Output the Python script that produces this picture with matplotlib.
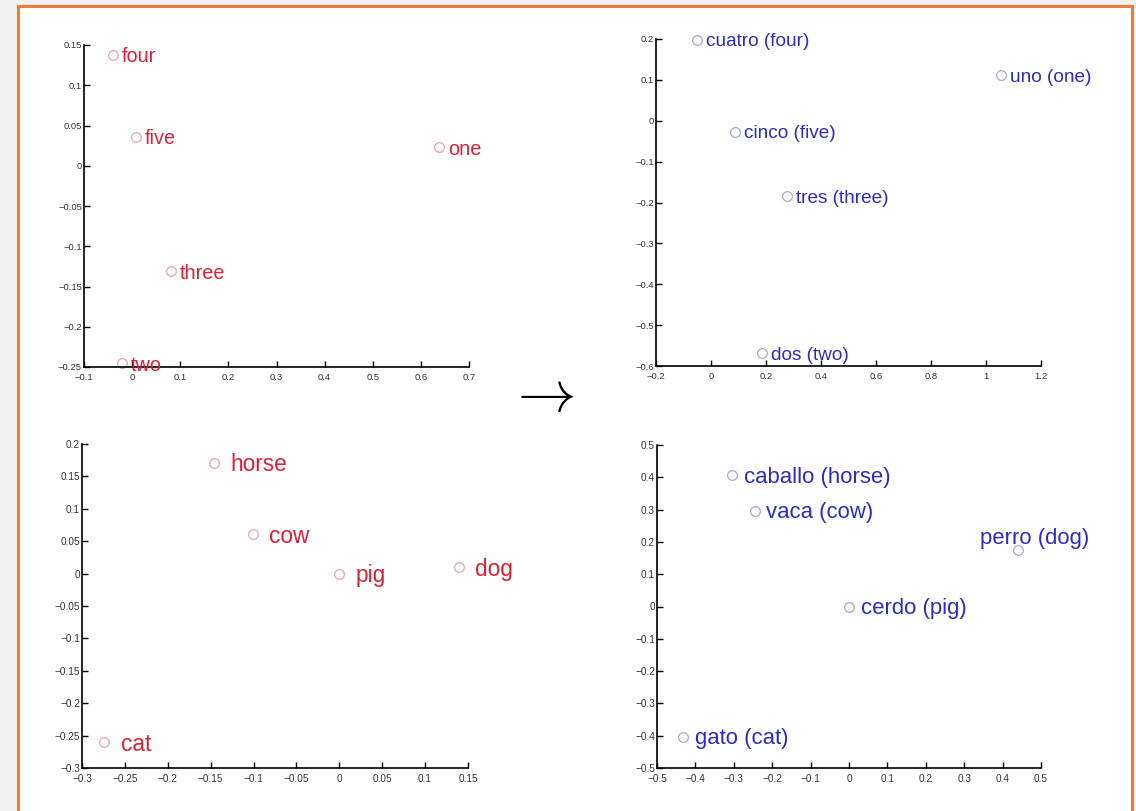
import matplotlib
matplotlib.use('Agg')
import matplotlib.pyplot as plt
from matplotlib.patches import Rectangle
from matplotlib.ticker import FuncFormatter

plt.rcParams['font.family'] = ['Liberation Sans', 'DejaVu Sans']
plt.rcParams['mathtext.fontset'] = 'cm'

# english numbers (top left)
num_en = ['four', 'five', 'one', 'three', 'two']
num_en_x = [-0.040, 0.008, 0.638, 0.081, -0.021]
num_en_y = [0.138, 0.036, 0.023, -0.131, -0.245]

# spanish numbers (top right)
num_es = ['cuatro (four)', 'uno (one)', 'cinco (five)', 'tres (three)', 'dos (two)']
num_es_x = [-0.051, 1.055, 0.087, 0.276, 0.185]
num_es_y = [0.198, 0.112, -0.027, -0.184, -0.568]

# english animals (bottom left)
ani_en = ['horse', 'cow', 'pig', 'dog', 'cat']
ani_en_x = [-0.146, -0.101, 0.0, 0.139, -0.274]
ani_en_y = [0.171, 0.061, 0.0, 0.010, -0.260]

# spanish animals (bottom right)
ani_es = ['caballo (horse)', 'vaca (cow)', 'perro (dog)', 'cerdo (pig)', 'gato (cat)']
ani_es_x = [-0.305, -0.246, 0.440, 0.0, -0.433]
ani_es_y = [0.407, 0.297, 0.175, 0.0, -0.403]

# axis ticks
tl_xticks = [-0.1, 0, 0.1, 0.2, 0.3, 0.4, 0.5, 0.6, 0.7]
tl_yticks = [-0.25, -0.2, -0.15, -0.1, -0.05, 0, 0.05, 0.1, 0.15]
tr_xticks = [-0.2, 0, 0.2, 0.4, 0.6, 0.8, 1, 1.2]
tr_yticks = [-0.6, -0.5, -0.4, -0.3, -0.2, -0.1, 0, 0.1, 0.2]
bl_xticks = [-0.3, -0.25, -0.2, -0.15, -0.1, -0.05, 0, 0.05, 0.1, 0.15]
bl_yticks = [-0.3, -0.25, -0.2, -0.15, -0.1, -0.05, 0, 0.05, 0.1, 0.15, 0.2]
br_xticks = [-0.5, -0.4, -0.3, -0.2, -0.1, 0, 0.1, 0.2, 0.3, 0.4, 0.5]
br_yticks = [-0.5, -0.4, -0.3, -0.2, -0.1, 0, 0.1, 0.2, 0.3, 0.4, 0.5]

W, H = 1136, 811
red = '#e21f32'
blue = '#2b2bc6'

fig = plt.figure(figsize=(W / 100, H / 100), dpi=100, facecolor='#f2f2f2')

# white slide panel with orange border, kept behind the axes
fig.patches.append(Rectangle((17.5 / W, -0.02), 1114 / W, (H - 5.5) / H + 0.02,
                             transform=fig.transFigure, facecolor='white',
                             edgecolor='#ed7d31', linewidth=2.2, zorder=-10))


def fmt(v, pos):
    s = '%g' % round(v, 6)
    if s == '-0':
        s = '0'
    return s.replace('-', '\u2212')


def panel(px, words, xs, ys, col, xticks, yticks, fs, tfs, off, special=None):
    # px = left, top, right, bottom in pixels
    l, t, r, b = px
    ax = fig.add_axes([l / W, (H - b) / H, (r - l) / W, (b - t) / H])
    ax.set_facecolor('none')
    ax.plot(xs, ys, 'o', mfc='none', mec=col[1], ms=7, mew=0.9, clip_on=False)
    for i, w in enumerate(words):
        o = off
        if special and w in special:
            o = special[w]
        ax.annotate(w, (xs[i], ys[i]), xytext=o, textcoords='offset points',
                    color=col[0], fontsize=fs, va='center', ha='left',
                    annotation_clip=False)
    ax.set_xlim(xticks[0], xticks[-1])
    ax.set_ylim(yticks[0], yticks[-1])
    ax.set_xticks(xticks)
    ax.set_yticks(yticks)
    ax.xaxis.set_major_formatter(FuncFormatter(fmt))
    ax.yaxis.set_major_formatter(FuncFormatter(fmt))
    for s in ['top', 'right']:
        ax.spines[s].set_visible(False)
    for s in ['left', 'bottom']:
        ax.spines[s].set_linewidth(1.2)
    ax.tick_params(direction='in', length=4, width=1, labelsize=tfs,
                   labelcolor='#333333')
    ax.tick_params(axis='y', pad=1.5)
    ax.tick_params(axis='x', pad=4)
    return ax


panel((84, 45, 469, 367), num_en, num_en_x, num_en_y, (red, '#e8a6b0'),
      tl_xticks, tl_yticks, 14.3, 6.8, (6.5, -1.5))
panel((656, 39, 1041, 366), num_es, num_es_x, num_es_y, (blue, '#a9a9d6'),
      tr_xticks, tr_yticks, 13.7, 6.8, (6.5, -1.5))
panel((82, 444, 468, 768), ani_en, ani_en_x, ani_en_y, (red, '#e8a6b0'),
      bl_xticks, bl_yticks, 16.3, 7.2, (12, -1.5))
panel((657, 445, 1041, 768), ani_es, ani_es_x, ani_es_y, (blue, '#a9a9d6'),
      br_xticks, br_yticks, 15.9, 7.2, (8.5, -1.5),
      special={'perro (dog)': (-27, 8)})

fig.text(541 / W, 1 - 397 / H, r'$\rightarrow$', fontsize=42, ha='center',
         va='center', color='black')

fig.savefig('out.png', dpi=100, facecolor=fig.get_facecolor())
